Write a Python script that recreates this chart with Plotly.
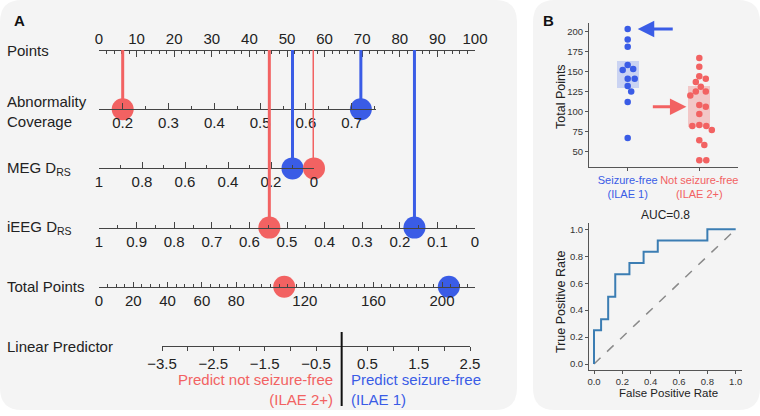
import plotly.graph_objects as go

W, H = 760, 416
def fx(px): return px / W
def fy(py): return 1 - py / H

# ---------------- data ----------------
ROWS = ["Points", "Abnormality Coverage", "MEG DRS", "iEEG DRS", "Total Points", "Linear Predictor"]
ROW_LABELS = ["Points", "Abnormality<br>Coverage", "MEG D<sub>RS</sub>", "iEEG D<sub>RS</sub>",
              "Total Points", "Linear Predictor"]

# two example patients: [not seizure-free, seizure-free]
patient_names = ["not seizure-free", "seizure-free"]
abn_coverage = [0.2, 0.72]
meg_drs = [0.0, 0.1]
ieeg_drs = [0.547, 0.161]
total_pts = [108, 204]

points_ticks = list(range(0, 101, 10))
abn_ticks = [0.2, 0.3, 0.4, 0.5, 0.6, 0.7]
meg_ticks = [1, 0.8, 0.6, 0.4, 0.2, 0]
ieeg_ticks = [1, 0.9, 0.8, 0.7, 0.6, 0.5, 0.4, 0.3, 0.2, 0.1, 0]
total_labels = [0, 20, 40, 60, 80, 120, 160, 200]
lp_ticks = [-3.5, -2.5, -1.5, -0.5, 0.5, 1.5, 2.5]

# panel B
groups = ["Seizure-free", "Not seizure-free"]
group_sub = ["(ILAE 1)", "(ILAE 2+)"]
sf_points = [203, 190, 181, 158, 153, 152, 141, 141, 132, 125, 112, 67]
nsf_points = [167, 156, 144, 141, 137, 131, 125, 125, 120, 108, 106, 97, 82, 82, 83, 77, 64, 58, 39, 39]
box_low = [130, 80.5]
box_high = [163, 132]

roc_fpr = [0, 0, 0.05, 0.1, 0.15, 0.25, 0.35, 0.45, 0.8, 1.0]
roc_tpr = [0, 0.25, 0.333, 0.5, 0.667, 0.75, 0.833, 0.917, 1.0, 1.0]
auc_text = "AUC=0.8"

# ---------------- style ----------------
RED = "#f26262"
BLUE = "#3a5ce6"
PANEL = "#f4f4f4"
FONT = "Liberation Sans, Arial, sans-serif"
AX = "#444"

fig = go.Figure()

ROW0, ROWSTEP = 50, 59.2
def row_py(i): return ROW0 + ROWSTEP * i

LEFT, RIGHT = 99, 475

def row_axis(i, domain_px, rng, side, ticks, **kw):
    d = dict(domain=[fx(domain_px[0]), fx(domain_px[1])], range=rng, anchor="free",
             position=fy(row_py(i)), side=side, showline=True, linecolor=AX, linewidth=1,
             ticks=ticks, ticklen=6, tickcolor=AX, tickwidth=1, showgrid=False, zeroline=False,
             tickfont=dict(size=15, color="#222", family=FONT), fixedrange=True, automargin=False,
             tickangle=0)
    d.update(kw)
    return d

layout_axes = {}
layout_axes["xaxis"] = dict(visible=False, domain=[0, 1], range=[0, 1], anchor="y", automargin=False,
                            fixedrange=True)
# Points
layout_axes["xaxis2"] = row_axis(0, (LEFT, RIGHT), [0, 100], "top", "inside",
                                 tickmode="array", tickvals=points_ticks,
                                 minor=dict(dtick=2, tick0=0, ticklen=3, ticks="inside", tickcolor=AX))
# Abnormality coverage: 0.2 at 122.7px, 45.8px per 0.1
abn_pp = 458.0
layout_axes["xaxis3"] = row_axis(1, (LEFT, 376), [0.2 - (122.7 - LEFT) / abn_pp, 0.2 + (376 - 122.7) / abn_pp],
                                 "bottom", "inside", tickmode="array", tickvals=abn_ticks,
                                 minor=dict(dtick=0.05, tick0=0, ticklen=3, ticks="inside", tickcolor=AX))
# MEG DRS
layout_axes["xaxis4"] = row_axis(2, (LEFT, 314), [1, 0], "bottom", "inside",
                                 tickmode="array", tickvals=meg_ticks,
                                 minor=dict(dtick=0.1, tick0=0, ticklen=3, ticks="inside", tickcolor=AX))
# iEEG DRS
layout_axes["xaxis5"] = row_axis(3, (LEFT, RIGHT), [1, 0], "bottom", "inside",
                                 tickmode="array", tickvals=ieeg_ticks,
                                 minor=dict(dtick=0.05, tick0=0, ticklen=3, ticks="inside", tickcolor=AX))
# Total points: 0 at 99px, 200 at 442px
tp_pp = (442 - LEFT) / 200
layout_axes["xaxis6"] = row_axis(4, (LEFT, RIGHT), [0, (RIGHT - LEFT) / tp_pp], "bottom", "inside",
                                 tickmode="array", tickvals=total_labels, ticklen=5,
                                 minor=dict(dtick=5, tick0=0, ticklen=3, ticks="inside", tickcolor=AX))
# Linear predictor: -3.5 at 162px, 2.5 at 470px
layout_axes["xaxis7"] = row_axis(5, (162, 470), [-3.5, 2.5], "bottom", "outside",
                                 tickmode="array", tickvals=lp_ticks, ticklen=4,
                                 minor=dict(dtick=0.5, tick0=0, ticklen=4, ticks="outside", tickcolor=AX))

yA = dict(domain=[0, 1], type="category", categoryorder="array", categoryarray=ROWS,
          range=[(H - ROW0) / ROWSTEP, -ROW0 / ROWSTEP], visible=False, fixedrange=True,
          anchor="x", automargin=False)

# empty traces so that the Points and Linear Predictor scales get drawn
for ax in ["x2", "x7"]:
    fig.add_trace(go.Scatter(x=[], y=[], xaxis=ax, yaxis="y", showlegend=False, hoverinfo="skip"))

row_axes = ["x3", "x4", "x5"]
row_vals = [abn_coverage, meg_drs, ieeg_drs]
colors = [RED, BLUE]

# connector lines from the Points scale down to each value (under the dots)
for p in [1, 0]:
    for r, (ax, vals) in enumerate(zip(row_axes, row_vals), start=1):
        fig.add_trace(go.Scatter(x=[vals[p], vals[p]], y=[ROWS[0], ROWS[r]], mode="lines",
                                 line=dict(color=colors[p], width=3), xaxis=ax, yaxis="y",
                                 cliponaxis=False, showlegend=False, hoverinfo="skip"))
for p in [1, 0]:
    for r, (ax, vals) in enumerate(zip(row_axes, row_vals), start=1):
        fig.add_trace(go.Scatter(x=[vals[p]], y=[ROWS[r]], mode="markers",
                                 marker=dict(color=colors[p], size=22, line=dict(width=0)),
                                 xaxis=ax, yaxis="y", cliponaxis=False, showlegend=False, hoverinfo="skip"))
    fig.add_trace(go.Scatter(x=[total_pts[p]], y=[ROWS[4]], mode="markers",
                             marker=dict(color=colors[p], size=22, line=dict(width=0)),
                             xaxis="x6", yaxis="y", cliponaxis=False, showlegend=False, hoverinfo="skip"))

# ---------------- panel B: swarm ----------------
XB0, XB1 = 589, 738
YB0, YB1 = 22.7, 166.7
cat_px = 71.6
xr8 = [-(627.7 - XB0) / cat_px, (XB1 - 627.7) / cat_px]
yr2 = [31, 211]
ypp = (YB1 - YB0) / (yr2[1] - yr2[0])

def swarm(vals, center, d=6.6):
    placed, xs = [], [0.0] * len(vals)
    order = sorted(range(len(vals)), key=lambda i: -vals[i])
    for i in order:
        yp = vals[i] * ypp
        best = None
        k = 0
        while best is None:
            cands = [0.0] if k == 0 else [k * 0.5, -k * 0.5]
            for s in cands:
                if all((s - a) ** 2 + (yp - b) ** 2 >= d * d for a, b in placed):
                    best = s
                    break
            k += 1
        placed.append((best, yp))
        xs[i] = center + best / cat_px
    return xs

fig.add_trace(go.Bar(x=[0, 1], y=[h - l for h, l in zip(box_high, box_low)], base=box_low, width=0.31,
                     marker=dict(color=["rgba(80,115,235,0.26)", "rgba(240,95,95,0.3)"], line=dict(width=0)),
                     xaxis="x8", yaxis="y2", showlegend=False, hoverinfo="skip"))
for gi, (vals, col) in enumerate([(sf_points, BLUE), (nsf_points, RED)]):
    fig.add_trace(go.Scatter(x=swarm(vals, gi), y=vals, mode="markers",
                             marker=dict(color=col, size=6.5, line=dict(width=0)),
                             xaxis="x8", yaxis="y2", showlegend=False, hoverinfo="skip"))

# ---------------- panel B: ROC ----------------
XR0, XR1 = 589, 741.7
YR0, YR1 = 222.7, 370
fig.add_trace(go.Scatter(x=[0, 1], y=[0, 1], mode="lines", line=dict(color="#8a8a8a", width=1.5, dash="dash"),
                         xaxis="x9", yaxis="y3", showlegend=False, hoverinfo="skip"))
fig.add_trace(go.Scatter(x=roc_fpr, y=roc_tpr, mode="lines", line=dict(color="#3b7db3", width=2, shape="hv"),
                         xaxis="x9", yaxis="y3", showlegend=False, hoverinfo="skip"))

small = dict(size=9.5, color="#333", family=FONT)
bax = dict(showline=True, linecolor="#555", linewidth=1, ticks="outside", ticklen=3, tickcolor="#555",
           showgrid=False, zeroline=False, fixedrange=True, tickfont=small, automargin=False, tickangle=0)

layout_axes["xaxis8"] = dict(bax, domain=[fx(XB0), fx(XB1)], range=xr8, anchor="y2", tickmode="array",
                             tickvals=[0, 1],
                             ticktext=[f"<span style='color:{BLUE}'>{groups[0]}<br>{group_sub[0]}</span>",
                                       f"<span style='color:{RED}'>{groups[1]}<br>{group_sub[1]}</span>"],
                             tickfont=dict(size=11, family=FONT))
layout_axes["yaxis2"] = dict(bax, domain=[fy(YB1), fy(YB0)], range=yr2, anchor="x8", tickmode="array",
                             tickvals=[50, 75, 100, 125, 150, 175, 200])
layout_axes["xaxis9"] = dict(bax, domain=[fx(XR0), fx(XR1)],
                             range=[-(594 - XR0) / 141.7, 1 + (XR1 - 735.7) / 141.7], anchor="y3",
                             tickmode="array", tickvals=[0, 0.2, 0.4, 0.6, 0.8, 1.0], tickformat=".1f")
layout_axes["yaxis3"] = dict(bax, domain=[fy(YR1), fy(YR0)],
                             range=[-(YR1 - 364) / 134.7, 1 + (229.3 - YR0) / 134.7], anchor="x9",
                             tickmode="array", tickvals=[0, 0.2, 0.4, 0.6, 0.8, 1.0], tickformat=".1f")

# ---------------- shapes ----------------
def rrect(x0, y0, x1, y1, r):
    X0, X1 = fx(x0), fx(x1)
    Y0, Y1 = fy(y1), fy(y0)
    rx, ry = r / W, r / H
    return (f"M {X0+rx},{Y0} L {X1-rx},{Y0} Q {X1},{Y0} {X1},{Y0+ry} L {X1},{Y1-ry} "
            f"Q {X1},{Y1} {X1-rx},{Y1} L {X0+rx},{Y1} Q {X0},{Y1} {X0},{Y1-ry} L {X0},{Y0+ry} "
            f"Q {X0},{Y0} {X0+rx},{Y0} Z")

shapes = [
    dict(type="path", path=rrect(0, 0, 517, 410, 22), xref="paper", yref="paper",
         fillcolor=PANEL, line=dict(width=0), layer="below"),
    dict(type="path", path=rrect(533, 0, 760, 410, 22), xref="paper", yref="paper",
         fillcolor=PANEL, line=dict(width=0), layer="below"),
    dict(type="line", xref="x7", yref="paper", x0=0, x1=0, y0=fy(332), y1=fy(406),
         line=dict(color="#111", width=2)),
]

# ---------------- annotations ----------------
def ptxt(text, x, y, size, color="#222", angle=0, **kw):
    d = dict(text=text, xref="paper", yref="paper", x=fx(x), y=fy(y), xanchor="center", yanchor="middle",
             showarrow=False, textangle=angle, font=dict(size=size, color=color, family=FONT))
    d.update(kw)
    return d

ann = []
for i, lab in enumerate(ROW_LABELS):
    ann.append(ptxt(lab, 5, row_py(i) + (2 if i == 1 else 0), 15, xanchor="left", align="left"))
ann += [
    ptxt("<b>A</b>", 19.5, 20, 15, "#111"),
    ptxt("<b>B</b>", 548, 20, 15, "#111"),
    dict(text="Predict not seizure-free<br>(ILAE 2+)", xref="x7", yref="paper", x=0, xshift=-7,
         y=fy(389), xanchor="right", yanchor="middle", align="right", showarrow=False,
         font=dict(size=15, color=RED, family=FONT)),
    dict(text="Predict seizure-free<br>(ILAE 1)", xref="x7", yref="paper", x=0, xshift=7,
         y=fy(389), xanchor="left", yanchor="middle", align="left", showarrow=False,
         font=dict(size=15, color=BLUE, family=FONT)),
    ptxt(auc_text, 665, 215, 12),
    ptxt("Total Points", 561, 97, 12.5, angle=-90),
    ptxt("True Positive Rate", 561, 302, 12.5, angle=-90),
    ptxt("False Positive Rate", 668, 393, 11.5),
    dict(x=0.14, y=max(sf_points), ax=0.65, ay=max(sf_points), xref="x8", yref="y2", axref="x8", ayref="y2",
         text="", showarrow=True, arrowhead=2, arrowsize=1.1, arrowwidth=3, arrowcolor=BLUE),
    dict(x=0.82, y=106, ax=0.33, ay=106, xref="x8", yref="y2", axref="x8", ayref="y2",
         text="", showarrow=True, arrowhead=2, arrowsize=1.1, arrowwidth=3, arrowcolor=RED),
]

fig.update_layout(width=W, height=H, margin=dict(l=0, r=0, t=0, b=0, autoexpand=False),
                  paper_bgcolor="white", plot_bgcolor="rgba(0,0,0,0)",
                  font=dict(family=FONT), showlegend=False, bargap=0,
                  yaxis=yA, shapes=shapes, annotations=ann, **layout_axes)

fig.write_html("out.html", config={"displayModeBar": False},
               post_script="document.body.style.margin='0';")
